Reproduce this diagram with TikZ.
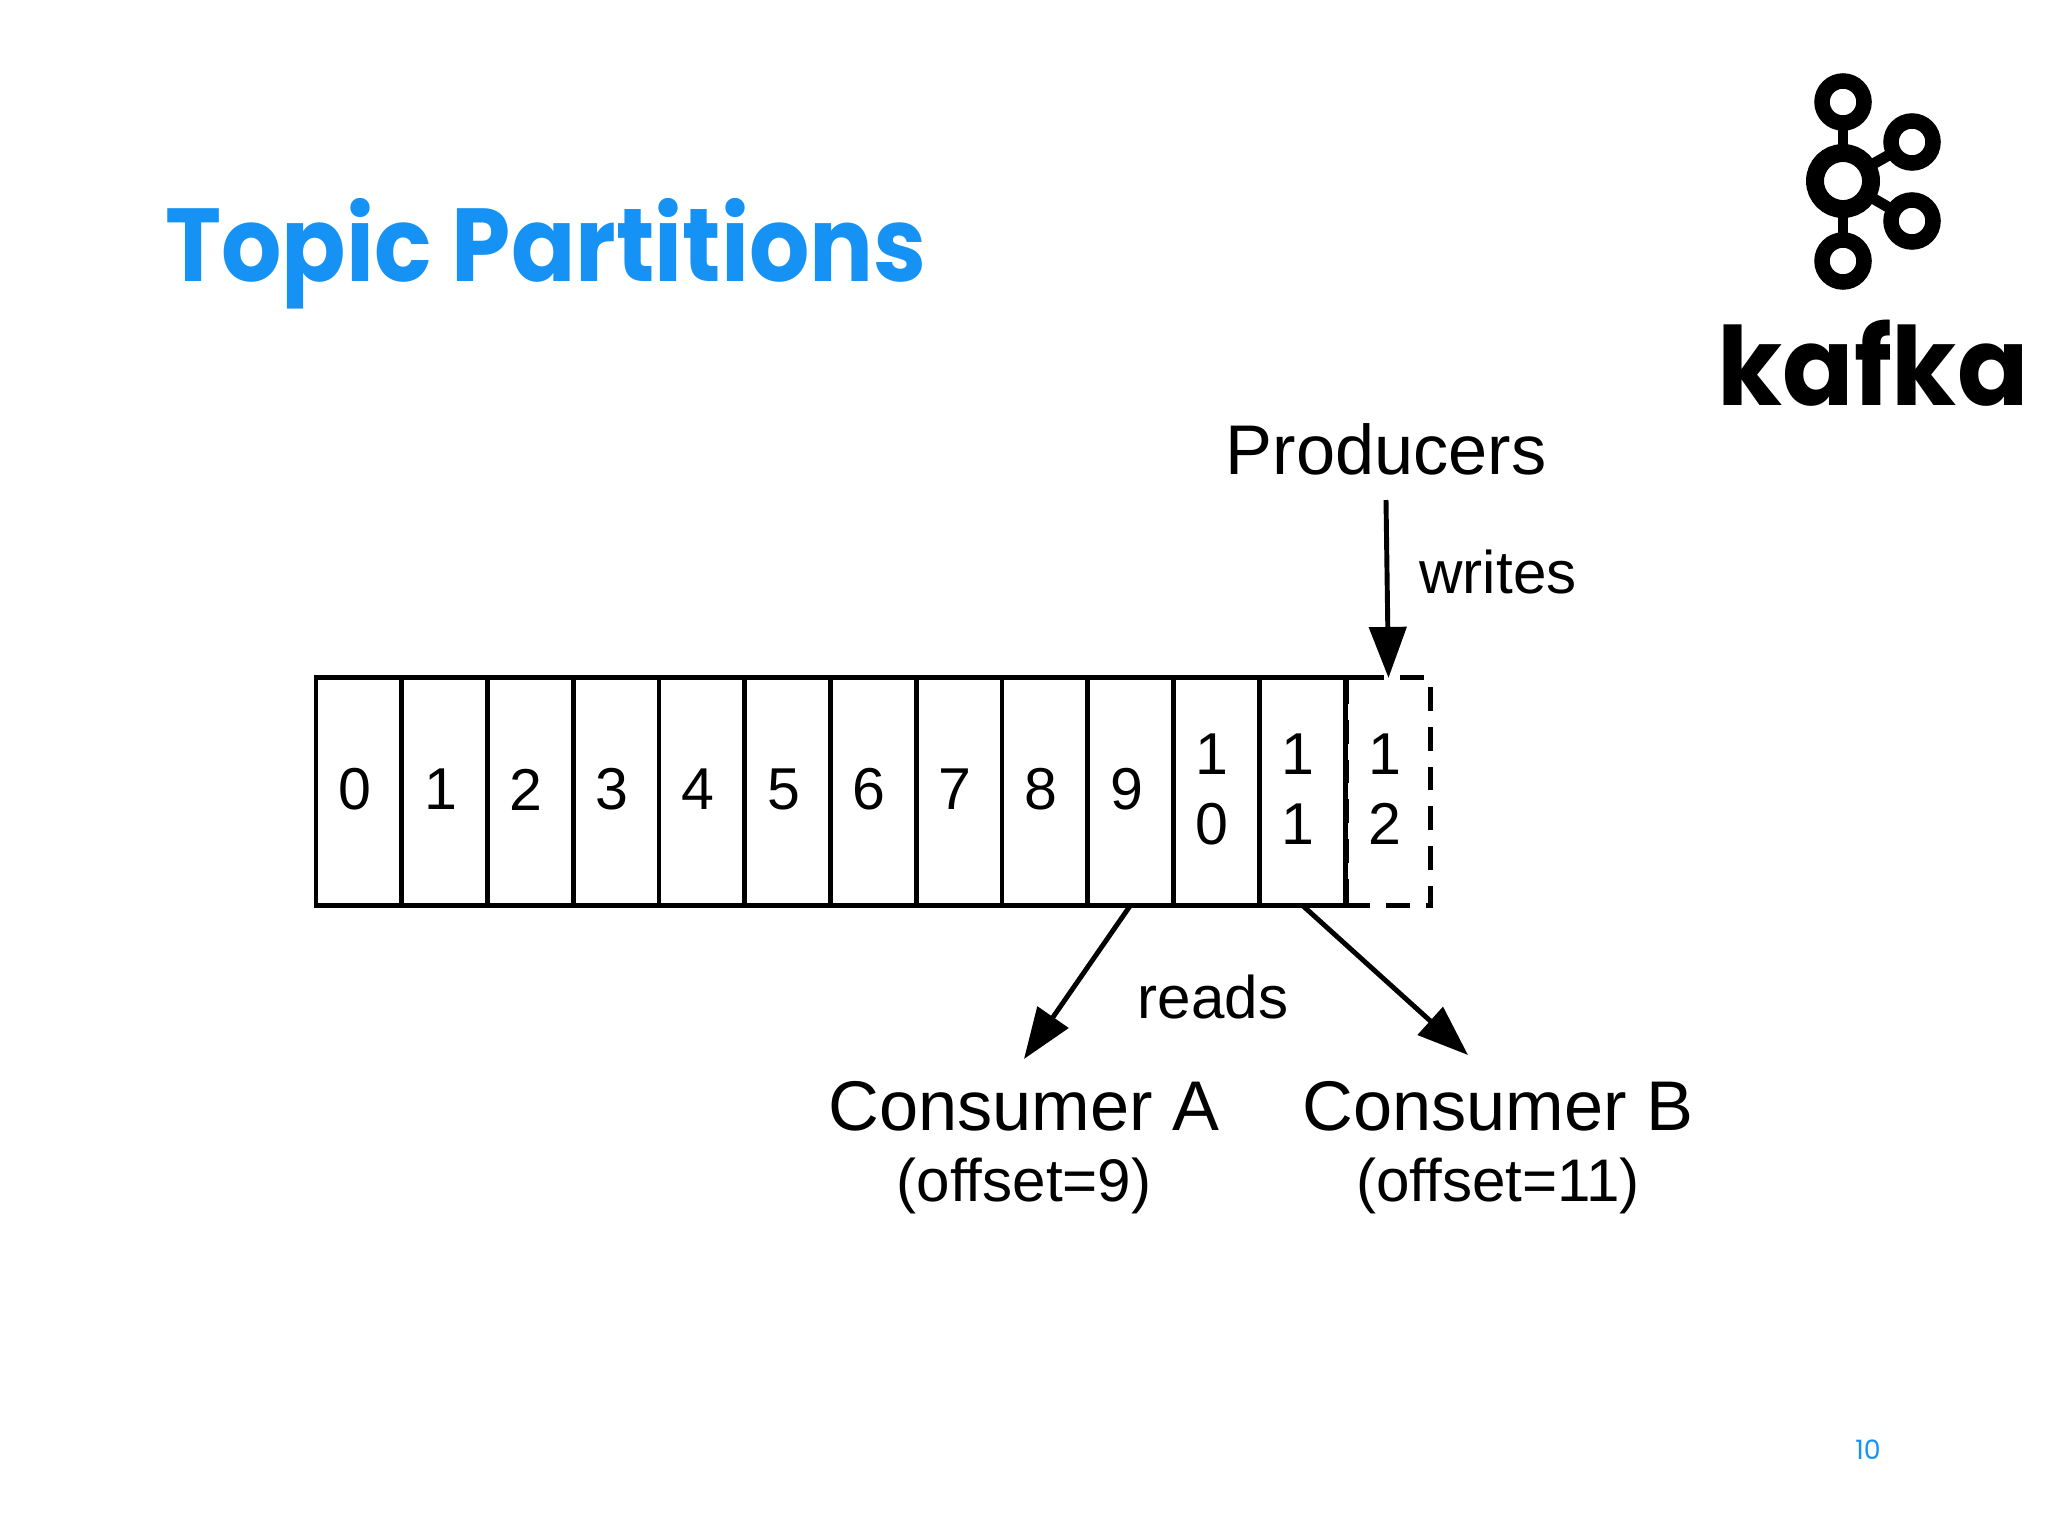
\documentclass[tikz,border=0pt]{standalone}
\usepackage{fontspec}
\usepackage{xcolor}
\usetikzlibrary{arrows.meta}
\setmainfont{Liberation Sans}
\newfontfamily\poppins{Poppins}
\definecolor{slideblue}{HTML}{1592F3}

\begin{document}
\begin{tikzpicture}[
        x=.01cm, y=-.01cm,
        cell/.style={draw, line width=1.4pt, minimum width=.8575cm, minimum height=2.27cm,
            inner sep=0pt, outer sep=0pt},
        newcell/.style={cell, minimum width=.84cm, dash pattern=on 6.8pt off 4.5pt},
        digit/.style={font=\fontsize{16.8}{19.85}\selectfont, align=center, xshift=-.04cm, yshift=.02cm},
        arrow/.style={line width=1.4pt, -{Triangle[length=14.5pt,width=10.5pt]}},
        big/.style={font=\fontsize{20}{24}\selectfont, inner sep=0pt},
        small/.style={font=\fontsize{17.1}{20}\selectfont, inner sep=0pt},
        ring/.style={circle, draw, line width=4.4pt, minimum size=.42cm, inner sep=0pt, outer sep=0pt},
        hub/.style={circle, draw, line width=5.1pt, minimum size=.56cm, inner sep=0pt, outer sep=0pt},
        spoke/.style={line width=3.1pt},
    ]
    \useasboundingbox (0,0) rectangle (2048,1536);

    % title
    \node[text=slideblue, font=\poppins\bfseries\fontsize{29.5}{34}\selectfont, inner sep=0pt]
        (title) at (546,254) {\scalebox{.915}[1]{Topic Partitions}};
    \node[text=slideblue, font=\poppins\fontsize{7.6}{9}\selectfont, inner sep=0pt]
        (page) at (1868,1450) {10};

    % logo
    \node[hub] (hub) at (1843,181) {};
    \node[ring] (ringN) at (1843,102) {};
    \node[ring] (ringS) at (1843,261) {};
    \node[ring] (ringE) at (1912,142) {};
    \node[ring] (ringW) at (1912,221) {};
    \foreach \r in {ringN,ringS,ringE,ringW}
        \draw[spoke] (hub) -- (\r);
    \node[font=\poppins\bfseries\fontsize{31}{36}\selectfont, inner sep=0pt]
        (kafka) at (1873,363) {\scalebox{.966}[1]{kafka}};

    % partition
    \foreach \i/\txt in {0/0,1/1,2/2,3/3,4/4,5/5,6/6,7/7,8/8,9/9,10/{1\\0},11/{1\\1}}
        \node[cell, label={[digit]center:{\txt}}] (cell\i) at ({316+85.75*(\i+.5)},791.5) {};
    \node[newcell, label={[digit]center:{1\\2}}] (cell12) at (1388.5,791.5) {};
    \draw[line width=1.4pt] (cell11.north east) -- +(22,0);

    % producers
    \node[big] (producers) at (1386,449) {Producers};
    \node[small] (writes) at (1498,572) {writes};
    \coordinate (prodOut) at (1386,500);
    \draw[arrow] (prodOut) -- (cell12.north);

    % consumers
    \node[big] (consumerA) at (1024,1106) {Consumer A};
    \node[small] (offsetA) at (1024,1186) {(offset=9)};
    \node[big] (consumerB) at (1498,1106) {Consumer B};
    \node[small] (offsetB) at (1498,1186) {(offset=11)};
    \node[small] (reads) at (1213,997) {reads};
    \coordinate (tipA) at (1024,1059);
    \coordinate (tipB) at (1468,1055);
    \draw[arrow] (cell9.south) -- (tipA);
    \draw[arrow] (cell11.south) -- (tipB);
\end{tikzpicture}
\end{document}
